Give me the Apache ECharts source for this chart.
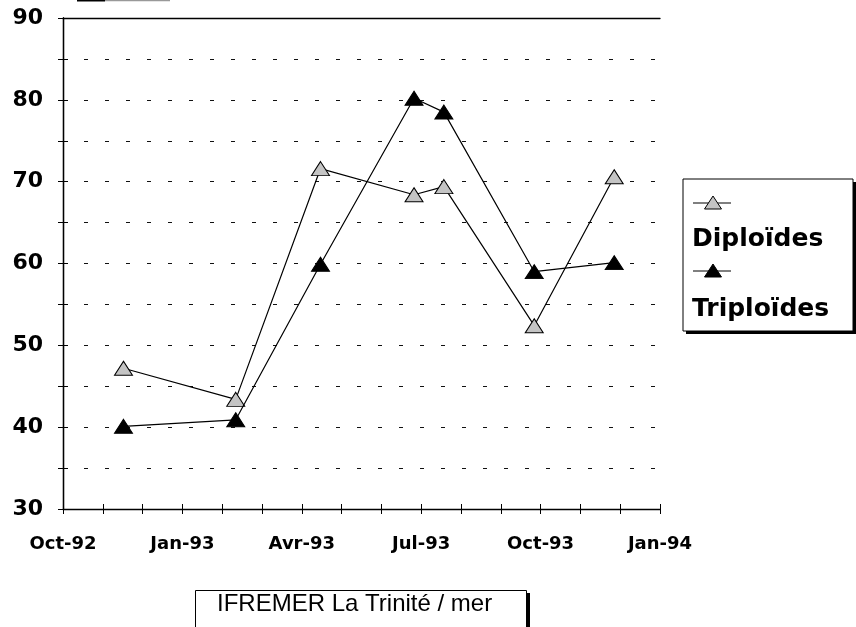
<!DOCTYPE html>
<html>
<head>
<meta charset="utf-8">
<script src="https://cdn.jsdelivr.net/npm/echarts@6/dist/echarts.min.js"></script>
<style>html,body{margin:0;padding:0;background:#fff;}#c{width:856px;height:627px;}</style>
</head>
<body>
<div id="c"></div>
<script>
// months since Oct-92 (x position of each sampling)
const sampleMonths = [1.52, 4.34, 6.47, 8.82, 9.57, 11.84, 13.85];
const diploides = [47.2, 43.4, 71.6, 68.4, 69.4, 52.4, 70.6];
const triploides = [40.1, 40.9, 59.9, 80.2, 78.5, 59.0, 60.1];
const xTickLabels = ['Oct-92', 'Jan-93', 'Avr-93', 'Jul-93', 'Oct-93', 'Jan-94'];
const seriesNames = ['Diploïdes', 'Triploïdes'];
const footerText = 'IFREMER La Trinité / mer';

const chart = echarts.init(document.getElementById('c'), null, {renderer: 'canvas'});
const pts = arr => sampleMonths.map((m, i) => [m, arr[i]]);
const lab = {fontFamily: 'DejaVu Sans', fontWeight: 'bold', color: '#000'};
const axLine = {show: true, lineStyle: {color: '#000', width: 1.3}};

chart.setOption({
  animation: false,
  backgroundColor: '#fff',
  grid: {left: 63, top: 18, width: 597, height: 491, containLabel: false},
  xAxis: [
    {type: 'value', min: 0, max: 15, interval: 1, position: 'bottom',
     axisLine: axLine, axisTick: {show: true, inside: false, length: 5, lineStyle: {color: '#000'}},
     axisLabel: Object.assign({fontSize: 18, margin: 26, formatter: v => (v % 3 === 0 ? xTickLabels[v / 3] : '')}, lab),
     splitLine: {show: false}},
    {type: 'value', min: 0, max: 15, interval: 1, position: 'bottom', offset: 0,
     axisLine: {show: false}, axisTick: {show: true, inside: true, length: 5, lineStyle: {color: '#000'}},
     axisLabel: {show: false}, splitLine: {show: false}},
    {type: 'value', min: 0, max: 15, interval: 1, position: 'top', offset: 0,
     axisLine: axLine, axisTick: {show: false}, axisLabel: {show: false}, splitLine: {show: false}}
  ],
  yAxis: [
    {type: 'value', min: 30, max: 90, interval: 5, position: 'left',
     axisLine: axLine, axisTick: {show: true, inside: false, length: 5, lineStyle: {color: '#000'}},
     axisLabel: Object.assign({fontSize: 22, margin: 20, formatter: v => (v % 10 === 0 ? String(v) : '')}, lab),
     splitLine: {show: true, showMinLine: false, showMaxLine: false, lineStyle: {color: '#111', width: 1.2, type: [4, 17]}}},
    {type: 'value', min: 30, max: 90, interval: 5, position: 'left', offset: 0,
     axisLine: {show: false}, axisTick: {show: true, inside: true, length: 5, lineStyle: {color: '#000'}},
     axisLabel: {show: false}, splitLine: {show: false}},
    {type: 'value', min: 30, max: 90, interval: 5, position: 'right', offset: 0,
     axisLine: axLine, axisTick: {show: true, inside: true, length: 5, lineStyle: {color: '#000'}},
     axisLabel: {show: false}, splitLine: {show: false}}
  ],
  series: [
    {name: seriesNames[0], type: 'line', xAxisIndex: 0, yAxisIndex: 0, data: pts(diploides),
     symbol: 'triangle', symbolSize: [18, 14], z: 3,
     lineStyle: {color: '#000', width: 1.2},
     itemStyle: {color: '#c4c4c4', borderColor: '#000', borderWidth: 1}},
    {name: seriesNames[1], type: 'line', xAxisIndex: 0, yAxisIndex: 0, data: pts(triploides),
     symbol: 'triangle', symbolSize: [18, 14], z: 4,
     lineStyle: {color: '#000', width: 1.2},
     itemStyle: {color: '#000', borderColor: '#000', borderWidth: 1}}
  ],
  graphic: [
    // legend box with shadow
    {type: 'rect', shape: {x: 686, y: 182, width: 170, height: 152}, style: {fill: '#000'}, z: 10},
    {type: 'rect', shape: {x: 683, y: 179, width: 170, height: 152}, style: {fill: '#fff', stroke: '#000', lineWidth: 1}, z: 11},
    {type: 'line', shape: {x1: 693, y1: 203, x2: 731, y2: 203}, style: {stroke: '#000', lineWidth: 1.2}, z: 12},
    {type: 'polygon', shape: {points: [[713, 196], [704.5, 209], [721.5, 209]]}, style: {fill: '#c4c4c4', stroke: '#000', lineWidth: 1}, z: 13},
    {type: 'text', left: 692, top: 227, style: {text: seriesNames[0], font: 'bold 25px "DejaVu Sans"', fill: '#000'}, z: 12},
    {type: 'line', shape: {x1: 693, y1: 271, x2: 731, y2: 271}, style: {stroke: '#000', lineWidth: 1.2}, z: 12},
    {type: 'polygon', shape: {points: [[713, 264], [704.5, 277], [721.5, 277]]}, style: {fill: '#000', stroke: '#000', lineWidth: 1}, z: 13},
    {type: 'text', left: 692, top: 297, style: {text: seriesNames[1], font: 'bold 25px "DejaVu Sans"', fill: '#000'}, z: 12},
    // footer box
    {type: 'rect', shape: {x: 198, y: 593, width: 332, height: 40}, style: {fill: '#000'}, z: 10},
    {type: 'rect', shape: {x: 195.5, y: 590.5, width: 331, height: 40}, style: {fill: '#fff', stroke: '#000', lineWidth: 1}, z: 11},
    {type: 'text', left: 217, top: 592, style: {text: footerText, font: '24px "Liberation Sans"', fill: '#000'}, z: 12},
    // scan fragment at top
    {type: 'line', shape: {x1: 77, y1: 0.5, x2: 105, y2: 0.5}, style: {stroke: '#000', lineWidth: 2}, z: 12},
    {type: 'line', shape: {x1: 105, y1: 0.5, x2: 170, y2: 0.5}, style: {stroke: '#999', lineWidth: 1.5}, z: 12}
  ]
});
</script>
</body>
</html>
